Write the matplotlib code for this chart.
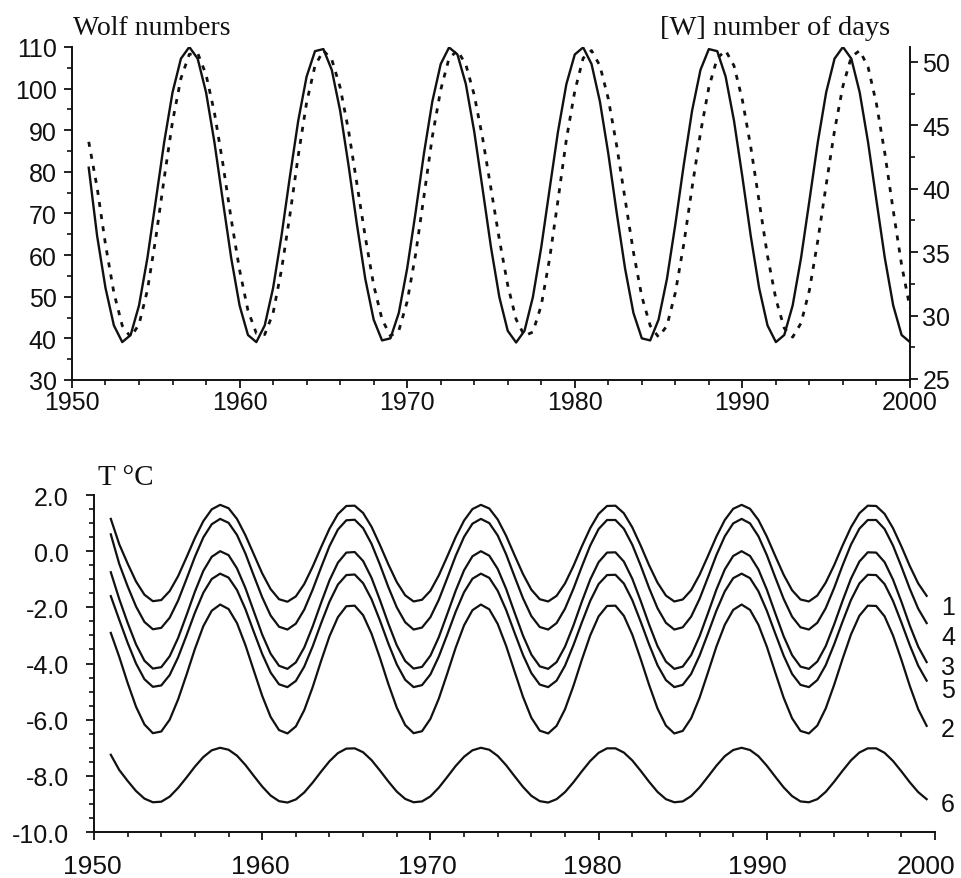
import numpy as np
import matplotlib
matplotlib.use("Agg")
import matplotlib.pyplot as plt
from matplotlib.ticker import MultipleLocator, FormatStrFormatter
from matplotlib.transforms import offset_copy

# sampling grid (half-year steps)
years = np.arange(1951.0, 2000.01, 0.5)
years_t = np.arange(1951.0, 1999.51, 0.5)

# top panel: Wolf numbers (left axis) and number of days [W] (right axis)
wolf = [81.0, 64.6, 52.1, 43.1, 39.1, 40.8, 47.9, 59.3, 73.1, 87.1,
        99.1, 107.2, 110.0, 107.2, 99.1, 87.1, 73.1, 59.3, 47.9, 40.8,
        39.1, 43.1, 52.1, 64.6, 78.8, 92.3, 102.9, 109.0, 109.5, 104.5,
        94.7, 81.6, 67.4, 54.3, 44.5, 39.5, 40.0, 46.1, 56.8, 70.2,
        84.4, 96.9, 105.9, 109.9, 108.2, 101.1, 89.7, 75.9, 61.9, 49.9,
        41.8, 39.0, 41.8, 49.9, 61.9, 75.9, 89.7, 101.1, 108.2, 109.9,
        105.9, 96.9, 84.4, 70.2, 56.8, 46.1, 40.0, 39.5, 44.5, 54.3,
        67.4, 81.6, 94.7, 104.5, 109.5, 109.0, 102.9, 92.3, 78.8, 64.6,
        52.1, 43.1, 39.1, 40.8, 47.9, 59.3, 73.1, 87.1, 99.1, 107.2,
        110.0, 107.2, 99.1, 87.1, 73.1, 59.3, 47.9, 40.8, 39.1]

days = [43.7, 40.1, 35.6, 31.8, 29.2, 28.3, 29.3, 32.0, 36.1, 40.8,
        45.3, 48.7, 50.6, 50.7, 49.0, 46.0, 42.0, 37.6, 33.6, 30.4,
        28.6, 28.5, 30.2, 33.6, 37.9, 42.6, 46.8, 49.7, 50.9, 50.2,
        48.0, 44.6, 40.4, 36.2, 32.4, 29.7, 28.4, 28.8, 31.1, 34.8,
        39.4, 44.1, 47.8, 50.3, 50.9, 49.8, 47.4, 44.0, 40.0, 36.0,
        32.4, 29.7, 28.4, 28.7, 30.8, 34.5, 39.1, 43.9, 47.7, 50.3,
        50.9, 49.7, 47.1, 43.4, 39.2, 35.0, 31.5, 29.2, 28.3, 29.2,
        31.8, 35.6, 40.1, 44.4, 48.0, 50.3, 50.9, 49.7, 47.0, 43.3,
        39.0, 34.7, 31.3, 29.0, 28.3, 29.4, 32.0, 35.9, 40.3, 44.6,
        48.1, 50.4, 50.9, 49.6, 46.7, 42.8, 38.3, 34.0, 30.6]

# bottom panel: temperature curves T °C, labelled 1..6
temp_1 = [1.15, 0.25, -0.44, -1.08, -1.55, -1.78, -1.74, -1.42, -0.89, -0.22,
          0.47, 1.07, 1.49, 1.65, 1.53, 1.15, 0.57, -0.11, -0.79, -1.35,
          -1.71, -1.80, -1.61, -1.17, -0.55, 0.14, 0.80, 1.32, 1.61, 1.62,
          1.36, 0.87, 0.22, -0.47, -1.10, -1.57, -1.79, -1.73, -1.41, -0.86,
          -0.19, 0.50, 1.09, 1.50, 1.65, 1.52, 1.13, 0.55, -0.14, -0.81,
          -1.37, -1.71, -1.79, -1.59, -1.15, -0.53, 0.17, 0.82, 1.33, 1.61,
          1.62, 1.35, 0.85, 0.20, -0.50, -1.12, -1.58, -1.79, -1.72, -1.39,
          -0.84, -0.17, 0.52, 1.11, 1.51, 1.65, 1.51, 1.11, 0.52, -0.17,
          -0.84, -1.39, -1.72, -1.79, -1.58, -1.12, -0.50, 0.20, 0.85, 1.35,
          1.62, 1.61, 1.33, 0.82, 0.17, -0.53, -1.15, -1.59]

temp_4 = [0.60, -0.45, -1.25, -1.97, -2.52, -2.78, -2.73, -2.37, -1.76, -0.99,
          -0.20, 0.49, 0.96, 1.15, 1.01, 0.58, -0.08, -0.87, -1.64, -2.29,
          -2.69, -2.79, -2.58, -2.08, -1.37, -0.58, 0.18, 0.77, 1.10, 1.12,
          0.82, 0.26, -0.48, -1.28, -2.00, -2.53, -2.79, -2.72, -2.35, -1.73,
          -0.96, -0.17, 0.51, 0.98, 1.15, 1.00, 0.56, -0.11, -0.90, -1.67,
          -2.31, -2.70, -2.79, -2.56, -2.05, -1.34, -0.55, 0.20, 0.79, 1.11,
          1.11, 0.80, 0.23, -0.51, -1.31, -2.03, -2.55, -2.79, -2.71, -2.33,
          -1.70, -0.93, -0.14, 0.53, 0.99, 1.15, 0.99, 0.53, -0.14, -0.93,
          -1.70, -2.33, -2.71, -2.79, -2.55, -2.03, -1.31, -0.51, 0.23, 0.80,
          1.11, 1.11, 0.79, 0.20, -0.55, -1.34, -2.05, -2.56]

temp_3 = [-0.75, -1.70, -2.55, -3.32, -3.90, -4.18, -4.13, -3.74, -3.09, -2.28,
          -1.44, -0.70, -0.20, 0.00, -0.14, -0.61, -1.31, -2.14, -2.97, -3.65,
          -4.08, -4.19, -3.96, -3.43, -2.68, -1.84, -1.04, -0.41, -0.05, -0.03,
          -0.35, -0.95, -1.74, -2.58, -3.35, -3.91, -4.18, -4.12, -3.72, -3.06,
          -2.24, -1.41, -0.68, -0.18, 0.00, -0.16, -0.63, -1.34, -2.18, -3.00,
          -3.68, -4.10, -4.19, -3.95, -3.40, -2.65, -1.80, -1.01, -0.39, -0.05,
          -0.04, -0.37, -0.98, -1.77, -2.61, -3.38, -3.93, -4.19, -4.11, -3.70,
          -3.03, -2.21, -1.37, -0.65, -0.17, 0.00, -0.17, -0.65, -1.37, -2.21,
          -3.03, -3.70, -4.11, -4.19, -3.93, -3.38, -2.61, -1.77, -0.98, -0.37,
          -0.04, -0.05, -0.39, -1.01, -1.80, -2.65, -3.40, -3.95]

temp_5 = [-1.60, -2.44, -3.26, -4.00, -4.56, -4.83, -4.78, -4.41, -3.78, -3.00,
          -2.19, -1.48, -0.99, -0.80, -0.94, -1.38, -2.06, -2.87, -3.66, -4.32,
          -4.74, -4.84, -4.62, -4.11, -3.39, -2.57, -1.80, -1.19, -0.85, -0.83,
          -1.14, -1.71, -2.47, -3.29, -4.03, -4.58, -4.84, -4.77, -4.39, -3.75,
          -2.97, -2.16, -1.46, -0.98, -0.80, -0.95, -1.41, -2.09, -2.90, -3.69,
          -4.34, -4.75, -4.84, -4.61, -4.08, -3.35, -2.54, -1.77, -1.17, -0.85,
          -0.84, -1.15, -1.74, -2.51, -3.32, -4.06, -4.59, -4.84, -4.76, -4.37,
          -3.72, -2.93, -2.12, -1.43, -0.96, -0.80, -0.96, -1.43, -2.12, -2.93,
          -3.72, -4.37, -4.76, -4.84, -4.59, -4.06, -3.32, -2.51, -1.74, -1.15,
          -0.84, -0.85, -1.17, -1.77, -2.54, -3.35, -4.08, -4.61]

temp_2 = [-2.91, -3.76, -4.69, -5.54, -6.17, -6.48, -6.42, -6.00, -5.28, -4.40,
          -3.48, -2.67, -2.12, -1.90, -2.06, -2.56, -3.34, -4.25, -5.15, -5.90,
          -6.37, -6.49, -6.24, -5.66, -4.84, -3.91, -3.03, -2.35, -1.96, -1.94,
          -2.28, -2.94, -3.80, -4.73, -5.57, -6.19, -6.48, -6.41, -5.97, -5.25,
          -4.36, -3.44, -2.64, -2.10, -1.90, -2.07, -2.59, -3.37, -4.28, -5.18,
          -5.93, -6.39, -6.49, -6.22, -5.63, -4.80, -3.87, -3.00, -2.32, -1.95,
          -1.94, -2.30, -2.97, -3.84, -4.76, -5.60, -6.21, -6.49, -6.40, -5.95,
          -5.22, -4.32, -3.40, -2.62, -2.09, -1.90, -2.09, -2.62, -3.40, -4.32,
          -5.22, -5.95, -6.40, -6.49, -6.21, -5.60, -4.76, -3.84, -2.97, -2.30,
          -1.94, -1.95, -2.32, -3.00, -3.87, -4.80, -5.63, -6.22]

temp_6 = [-7.25, -7.79, -8.18, -8.54, -8.81, -8.94, -8.92, -8.74, -8.43, -8.06,
          -7.67, -7.33, -7.09, -7.00, -7.07, -7.28, -7.61, -8.00, -8.38, -8.70,
          -8.90, -8.95, -8.84, -8.59, -8.24, -7.85, -7.48, -7.19, -7.03, -7.02,
          -7.16, -7.44, -7.81, -8.20, -8.56, -8.82, -8.94, -8.91, -8.73, -8.42,
          -8.04, -7.65, -7.32, -7.09, -7.00, -7.07, -7.29, -7.62, -8.01, -8.39,
          -8.71, -8.90, -8.95, -8.83, -8.58, -8.23, -7.84, -7.47, -7.18, -7.02,
          -7.02, -7.17, -7.45, -7.82, -8.21, -8.57, -8.83, -8.94, -8.91, -8.72,
          -8.41, -8.03, -7.64, -7.30, -7.08, -7.00, -7.08, -7.30, -7.64, -8.03,
          -8.41, -8.72, -8.91, -8.94, -8.83, -8.57, -8.21, -7.82, -7.45, -7.17,
          -7.02, -7.02, -7.18, -7.47, -7.84, -8.23, -8.58, -8.83]

curve_labels = ["1", "4", "3", "5", "2", "6"]
label_y = [-1.98, -3.06, -4.14, -4.96, -6.33, -9.0]
year_ticks = [1950, 1960, 1970, 1980, 1990, 2000]

tick_font = ["Liberation Sans", "DejaVu Sans"]
title_font = ["Liberation Serif", "DejaVu Serif"]
ink = "#111111"

fig = plt.figure(figsize=(9.61, 8.79), dpi=100)

# ---- top panel ----
ax1 = fig.add_axes([0.0749, 0.5666, 0.8720, 0.3788])
ax1.plot(years, wolf, color=ink, lw=1.7, solid_joinstyle="round")
ax1.set_xlim(1950, 2000)
ax1.set_ylim(30, 110)
ax1.spines["top"].set_visible(False)
ax1.spines["right"].set_visible(False)

ax2 = ax1.twinx()
ax2.plot(years, days, color=ink, lw=2.0, linestyle=(0, (1.8, 2.6)))
ax2.set_ylim(24.92, 51.18)
ax2.spines["top"].set_visible(False)
ax2.spines["left"].set_visible(False)
ax2.spines["bottom"].set_visible(False)

ax1.xaxis.set_major_locator(MultipleLocator(10))
ax1.xaxis.set_minor_locator(MultipleLocator(2))
ax1.yaxis.set_major_locator(MultipleLocator(10))
ax1.yaxis.set_minor_locator(MultipleLocator(5))
ax2.yaxis.set_major_locator(MultipleLocator(5))
ax2.yaxis.set_minor_locator(MultipleLocator(2.5))

# ---- bottom panel ----
ax3 = fig.add_axes([0.0978, 0.0523, 0.8752, 0.3834])
for vals in [temp_1, temp_4, temp_3, temp_5, temp_2, temp_6]:
    ax3.plot(years_t, vals, color=ink, lw=1.6, solid_joinstyle="round")
ax3.set_xlim(1950, 2000)
ax3.set_ylim(-10, 2.0)
ax3.spines["top"].set_visible(False)
ax3.spines["right"].set_visible(False)
ax3.set_xticks(year_ticks)
ax3.xaxis.set_minor_locator(MultipleLocator(2))
ax3.yaxis.set_major_locator(MultipleLocator(2))
ax3.yaxis.set_minor_locator(MultipleLocator(0.5))
ax3.yaxis.set_major_formatter(FormatStrFormatter("%.1f"))

for lab, yv in zip(curve_labels, label_y):
    ax3.text(2000.35, yv, lab, fontsize=18, family=tick_font, color=ink,
             ha="left", va="center", clip_on=False)

# common axis styling
for ax in (ax1, ax2, ax3):
    for sp in ax.spines.values():
        sp.set_linewidth(1.4)
        sp.set_color(ink)
    ax.tick_params(which="major", direction="out", length=6, width=1.3, color=ink)
    ax.tick_params(which="minor", direction="out", length=3.5, width=1.2, color=ink)
    ax.tick_params(labelsize=18, labelcolor=ink)
    for t in ax.get_xticklabels() + ax.get_yticklabels():
        t.set_family(tick_font)

ax1.tick_params(axis="y", pad=5)
ax1.tick_params(axis="x", pad=1)
ax2.tick_params(axis="y", pad=3)
ax3.tick_params(axis="y", pad=12)
ax3.tick_params(axis="x", labelbottom=False)

# year labels of the lower panel drift slightly left of their ticks
shift_px = [-1.5, -2, -3.5, -6, -9, -9.5]
for yr, dx in zip(year_ticks, shift_px):
    tr = offset_copy(ax3.get_xaxis_transform(), fig=fig, x=dx, y=-22, units="dots")
    ax3.text(yr, 0, str(yr), transform=tr, fontsize=19, family=tick_font,
             color=ink, ha="center", va="top", clip_on=False)

fig.text(73 / 961, 1 - 35 / 879, "Wolf numbers", fontsize=20, family=title_font,
         color=ink, ha="left", va="baseline")
fig.text(890 / 961, 1 - 35 / 879, "[W] number of days", fontsize=20.5,
         family=title_font, color=ink, ha="right", va="baseline")
fig.text(98 / 961, 1 - 485 / 879, "T \u00b0C", fontsize=21, family=title_font,
         color=ink, ha="left", va="baseline")

fig.savefig("out.png", dpi=100, facecolor="white")
